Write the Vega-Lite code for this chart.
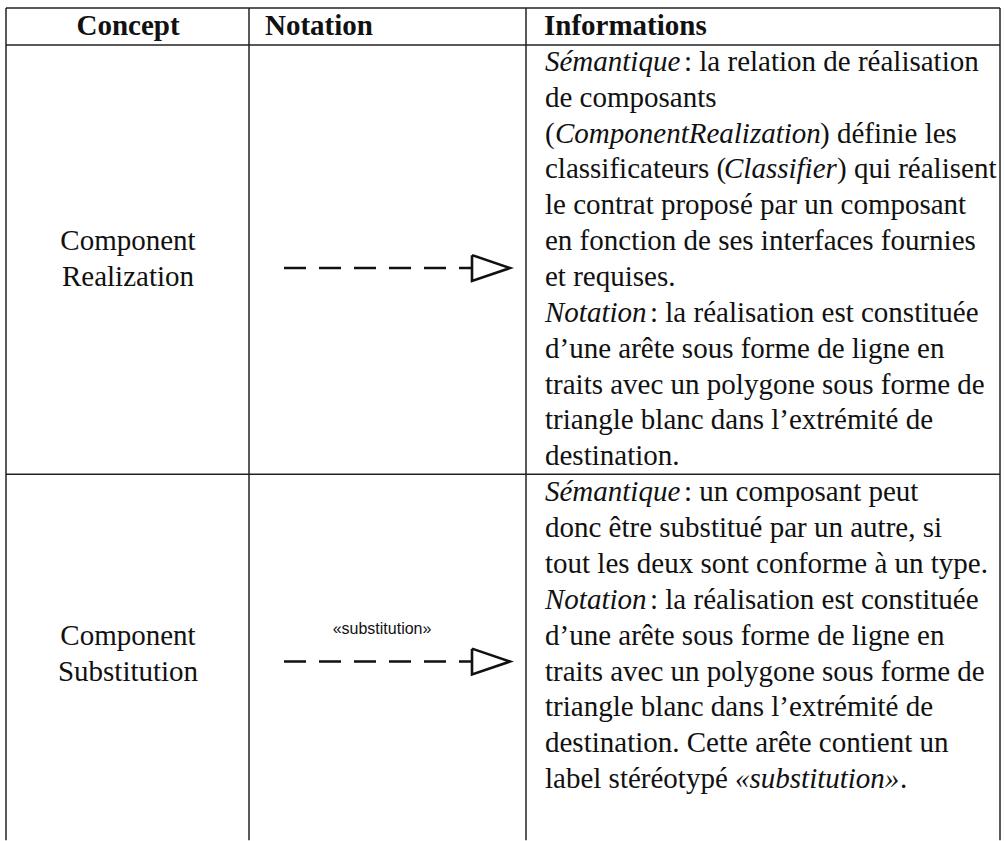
{
  "$schema": "https://vega.github.io/schema/vega-lite/v6.json",
  "width": 1006,
  "height": 841,
  "padding": 0,
  "autosize": {"type": "fit", "contains": "padding"},
  "background": "white",
  "config": {"view": {"stroke": null}},
  "datasets": {
    "borders": [
      {"x": 6, "x2": 1000, "line": -0.5, "line2": -0.5},
      {"x": 6, "x2": 1000, "line": 0.53, "line2": 0.53},
      {"x": 6, "x2": 1000, "line": 12.5, "line2": 12.5},
      {"x": 6, "x2": 6, "line": -0.5, "line2": 22.7},
      {"x": 249, "x2": 249, "line": -0.5, "line2": 22.7},
      {"x": 526, "x2": 526, "line": -0.5, "line2": 22.7},
      {"x": 1000, "x2": 1000, "line": -0.5, "line2": 22.7}
    ],
    "headerCenter": [
      {"x": 128, "line": 0, "text": "Concept"}
    ],
    "headerLeft": [
      {"x": 265, "line": 0, "text": "Notation"},
      {"x": 544, "line": 0, "text": "Informations"}
    ],
    "concept": [
      {"x": 128, "line": 6, "text": "Component"},
      {"x": 128, "line": 7, "text": "Realization"},
      {"x": 128, "line": 17, "text": "Component"},
      {"x": 128, "line": 18, "text": "Substitution"}
    ],
    "regular": [
      {"x": 684, "line": 1, "text": ": la relation de réalisation"},
      {"x": 545, "line": 2, "text": "de composants"},
      {"x": 545, "line": 3, "text": "("},
      {"x": 820, "line": 3, "text": ") définie les"},
      {"x": 545, "line": 4, "text": "classificateurs ("},
      {"x": 837, "line": 4, "text": ") qui réalisent"},
      {"x": 545, "line": 5, "text": "le contrat proposé par un composant"},
      {"x": 545, "line": 6, "text": "en fonction de ses interfaces fournies"},
      {"x": 545, "line": 7, "text": "et requises."},
      {"x": 650, "line": 8, "text": ": la réalisation est constituée"},
      {"x": 545, "line": 9, "text": "d’une arête sous forme de ligne en"},
      {"x": 545, "line": 10, "text": "traits avec un polygone sous forme de"},
      {"x": 545, "line": 11, "text": "triangle blanc dans l’extrémité de"},
      {"x": 545, "line": 12, "text": "destination."},
      {"x": 684, "line": 13, "text": ": un composant peut"},
      {"x": 545, "line": 14, "text": "donc être substitué par un autre, si"},
      {"x": 545, "line": 15, "text": "tout les deux sont conforme à un type."},
      {"x": 650, "line": 16, "text": ": la réalisation est constituée"},
      {"x": 545, "line": 17, "text": "d’une arête sous forme de ligne en"},
      {"x": 545, "line": 18, "text": "traits avec un polygone sous forme de"},
      {"x": 545, "line": 19, "text": "triangle blanc dans l’extrémité de"},
      {"x": 545, "line": 20, "text": "destination. Cette arête contient un"},
      {"x": 545, "line": 21, "text": "label stéréotypé"},
      {"x": 900, "line": 21, "text": "."}
    ],
    "italic": [
      {"x": 545, "line": 1, "text": "Sémantique"},
      {"x": 555, "line": 3, "text": "ComponentRealization"},
      {"x": 724, "line": 4, "text": "Classifier"},
      {"x": 545, "line": 8, "text": "Notation"},
      {"x": 545, "line": 13, "text": "Sémantique"},
      {"x": 545, "line": 16, "text": "Notation"},
      {"x": 735, "line": 21, "text": "«substitution»"}
    ],
    "dashes": [
      {"arrow": "realization", "x": 284, "line": 6.75},
      {"arrow": "realization", "x": 472, "line": 6.75},
      {"arrow": "substitution", "x": 284, "line": 17.72},
      {"arrow": "substitution", "x": 472, "line": 17.72}
    ],
    "heads": [
      {"arrow": "realization", "order": 1, "x": 472, "line": 6.39},
      {"arrow": "realization", "order": 2, "x": 510, "line": 6.75},
      {"arrow": "realization", "order": 3, "x": 472, "line": 7.11},
      {"arrow": "realization", "order": 4, "x": 472, "line": 6.39},
      {"arrow": "substitution", "order": 1, "x": 472, "line": 17.36},
      {"arrow": "substitution", "order": 2, "x": 510, "line": 17.72},
      {"arrow": "substitution", "order": 3, "x": 472, "line": 18.08},
      {"arrow": "substitution", "order": 4, "x": 472, "line": 17.36}
    ],
    "stereotype": [
      {"x": 382, "line": 16.82, "text": "«substitution»"}
    ]
  },
  "encoding": {
    "x": {"field": "x", "type": "quantitative", "scale": {"domain": [0, 1006], "nice": false, "zero": false}, "axis": null},
    "y": {"field": "line", "type": "quantitative", "scale": {"domain": [-0.7222, 22.6389], "nice": false, "zero": false, "reverse": true}, "axis": null}
  },
  "layer": [
    {
      "data": {"name": "borders"},
      "mark": {"type": "rule", "color": "#222", "strokeWidth": 1.5},
      "encoding": {"x2": {"field": "x2"}, "y2": {"field": "line2"}}
    },
    {
      "data": {"name": "headerCenter"},
      "mark": {"type": "text", "font": "Liberation Serif", "fontWeight": "bold", "fontSize": 29, "align": "center", "baseline": "middle", "color": "#111"},
      "encoding": {"text": {"field": "text"}}
    },
    {
      "data": {"name": "headerLeft"},
      "mark": {"type": "text", "font": "Liberation Serif", "fontWeight": "bold", "fontSize": 29, "align": "left", "baseline": "middle", "color": "#111"},
      "encoding": {"text": {"field": "text"}}
    },
    {
      "data": {"name": "concept"},
      "mark": {"type": "text", "font": "Liberation Serif", "fontSize": 29, "align": "center", "baseline": "middle", "color": "#111"},
      "encoding": {"text": {"field": "text"}}
    },
    {
      "data": {"name": "regular"},
      "mark": {"type": "text", "font": "Liberation Serif", "fontSize": 29, "align": "left", "baseline": "middle", "color": "#111"},
      "encoding": {"text": {"field": "text"}}
    },
    {
      "data": {"name": "italic"},
      "mark": {"type": "text", "font": "Liberation Serif", "fontStyle": "italic", "fontSize": 29, "align": "left", "baseline": "middle", "color": "#111"},
      "encoding": {"text": {"field": "text"}}
    },
    {
      "data": {"name": "dashes"},
      "mark": {"type": "line", "color": "#111", "strokeWidth": 2.6, "strokeDash": [22, 13]},
      "encoding": {"detail": {"field": "arrow"}}
    },
    {
      "data": {"name": "heads"},
      "mark": {"type": "line", "color": "#111", "strokeWidth": 2.6, "strokeJoin": "miter"},
      "encoding": {"detail": {"field": "arrow"}, "order": {"field": "order", "type": "quantitative"}}
    },
    {
      "data": {"name": "stereotype"},
      "mark": {"type": "text", "font": "Liberation Sans", "fontSize": 16, "align": "center", "baseline": "middle", "color": "#111"},
      "encoding": {"text": {"field": "text"}}
    }
  ]
}
